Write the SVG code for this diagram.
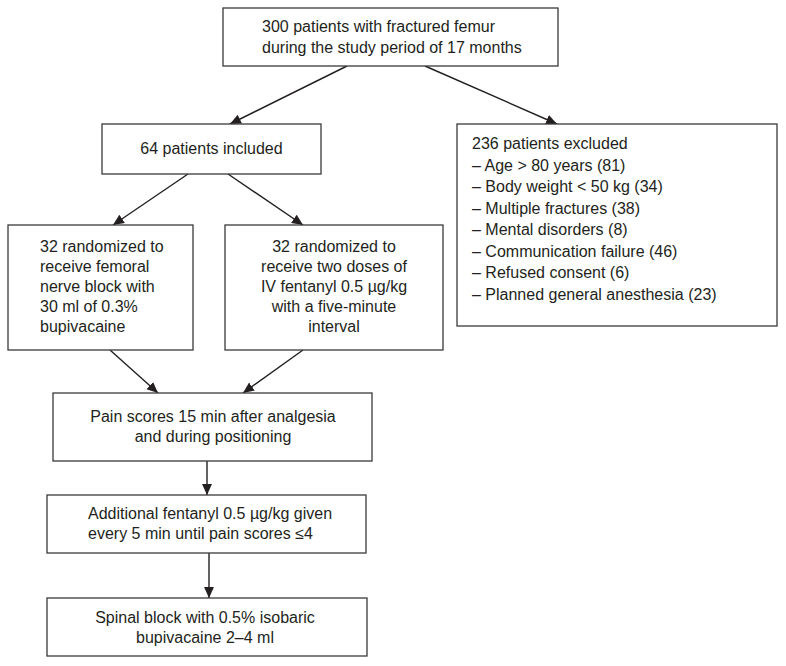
<svg xmlns="http://www.w3.org/2000/svg" width="786" height="666" viewBox="0 0 786 666">
<defs>
<marker id="ah" viewBox="0 0 10 10" refX="10" refY="5" markerWidth="11" markerHeight="11" markerUnits="userSpaceOnUse" orient="auto">
<path d="M0,0.5 L10,5 L0,9.5 Z" fill="#231f20"/>
</marker>
<style>
.box{fill:#fff;stroke:#3a3a3a;stroke-width:1.3}
.t{font-family:"Liberation Sans",Arial,sans-serif;font-size:16px;fill:#231f20}
.c{text-anchor:middle}
.edge{stroke:#231f20;stroke-width:1.4;fill:none;marker-end:url(#ah)}
</style>
</defs>
<rect width="786" height="666" fill="#fff"/>
<g id="connectors">
<line class="edge" x1="347" y1="66" x2="230" y2="124"/>
<line class="edge" x1="425" y1="66" x2="557" y2="124"/>
<line class="edge" x1="188" y1="174" x2="113" y2="225"/>
<line class="edge" x1="228" y1="174" x2="303" y2="225"/>
<line class="edge" x1="110" y1="350" x2="158" y2="393"/>
<line class="edge" x1="303" y1="350" x2="243" y2="393"/>
<line class="edge" x1="207" y1="461" x2="207" y2="495"/>
<line class="edge" x1="209" y1="553" x2="209" y2="598"/>
</g>
<g id="n-top">
<rect class="box" x="223" y="8" width="335" height="58"/>
<text class="t" x="262" y="32">300 patients with fractured femur</text>
<text class="t" x="262" y="53">during the study period of 17 months</text>
</g>
<g id="n-included">
<rect class="box" x="102" y="124" width="219" height="50"/>
<text class="t c" x="211.5" y="154">64 patients included</text>
</g>
<g id="n-excluded">
<rect class="box" x="457" y="124" width="320" height="202"/>
<text class="t" x="472" y="149">236 patients excluded</text>
<text class="t" x="472" y="170.5">– Age &gt; 80 years (81)</text>
<text class="t" x="472" y="192">– Body weight &lt; 50 kg (34)</text>
<text class="t" x="472" y="213.5">– Multiple fractures (38)</text>
<text class="t" x="472" y="235">– Mental disorders (8)</text>
<text class="t" x="472" y="256.5">– Communication failure (46)</text>
<text class="t" x="472" y="278">– Refused consent (6)</text>
<text class="t" x="472" y="299.5">– Planned general anesthesia (23)</text>
</g>
<g id="n-femoral">
<rect class="box" x="8" y="225" width="185" height="125"/>
<text class="t" x="40" y="252">32 randomized to</text>
<text class="t" x="40" y="272">receive femoral</text>
<text class="t" x="40" y="292">nerve block with</text>
<text class="t" x="40" y="312">30 ml of 0.3%</text>
<text class="t" x="40" y="332">bupivacaine</text>
</g>
<g id="n-fentanyl">
<rect class="box" x="225" y="225" width="218" height="125"/>
<text class="t c" x="334" y="252">32 randomized to</text>
<text class="t c" x="334" y="272">receive two doses of</text>
<text class="t c" x="334" y="292">IV fentanyl 0.5 µg/kg</text>
<text class="t c" x="334" y="312">with a five-minute</text>
<text class="t c" x="334" y="332">interval</text>
</g>
<g id="n-pain">
<rect class="box" x="53" y="393" width="319" height="68"/>
<text class="t c" x="213" y="422">Pain scores 15 min after analgesia</text>
<text class="t c" x="213" y="442">and during positioning</text>
</g>
<g id="n-additional">
<rect class="box" x="47" y="495" width="319" height="58"/>
<text class="t" x="88" y="519">Additional fentanyl 0.5 µg/kg given</text>
<text class="t" x="88" y="539">every 5 min until pain scores ≤4</text>
</g>
<g id="n-spinal">
<rect class="box" x="47" y="598" width="320" height="58"/>
<text class="t c" x="205" y="623">Spinal block with 0.5% isobaric</text>
<text class="t c" x="205" y="643">bupivacaine 2–4 ml</text>
</g>
</svg>
